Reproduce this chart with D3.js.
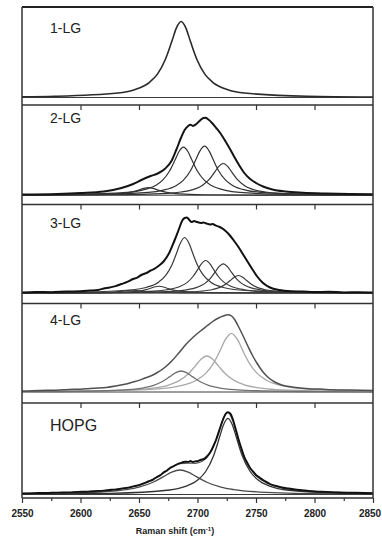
<!DOCTYPE html>
<html><head><meta charset="utf-8">
<script src="https://cdn.jsdelivr.net/npm/d3@7"></script>
<style>
html,body{margin:0;padding:0;background:#fff;}
svg{display:block;}
</style></head>
<body>
<svg id="chart" width="382" height="538"></svg>
<script>
// ---------------- DATA ----------------
const panelLabels = ["1-LG", "2-LG", "3-LG", "4-LG", "HOPG"];
const xTickMajor = [2550, 2600, 2650, 2700, 2750, 2800, 2850];
const xTickMinor = [2575, 2625, 2675, 2725, 2775, 2825];
const xAxisTitle = "Raman shift (cm";
const baselines = [7.5, 9.3, 10.5, 11, 3.5];

const lg1_spectrum = [[2550,8.2],[2578,8.7],[2632,12.0],[2645.5,15.1],[2659,22.7],[2665.75,30.9],[2672.5,45.5],[2678,63.4],[2682,77.2],[2686,83.5],[2690,77.2],[2694,63.4],[2699.5,45.5],[2706.25,30.9],[2713,22.7],[2726.5,15.1],[2740,12.0],[2794,8.7],[2850,8.0]];

const lg2_spectrum = [[2550,10.0],[2580,10.6],[2600,11.5],[2620,13.0],[2635,16.5],[2645,20.5],[2652,24.5],[2660,28.5],[2666,31.0],[2672,35.5],[2678,44.0],[2682,55.0],[2686,67.0],[2689,74.5],[2692,78.5],[2694,79.8],[2696,78.6],[2699,80.5],[2702,83.8],[2705,86.5],[2707,86.8],[2709,85.2],[2712,82.0],[2716,76.5],[2720,70.5],[2724,63.0],[2728,55.0],[2732,46.5],[2736,38.5],[2740,31.5],[2745,25.5],[2750,21.5],[2756,18.0],[2764,15.0],[2775,13.0],[2790,11.8],[2810,11.0],[2830,10.5],[2850,10.2]];
const lg2_fitA = [[2550,9.4],[2610,9.74],[2622,10.05],[2634,10.8],[2640,11.6],[2646,13.05],[2651,14.9],[2654,16.05],[2658,16.8],[2662,16.05],[2665,14.9],[2670,13.05],[2676,11.6],[2682,10.8],[2694,10.05],[2706,9.74],[2754,9.42],[2850,9.33]];
const lg2_fitB = [[2550,9.7],[2592,10.0],[2640,12.1],[2652,14.1],[2664,18.9],[2670,24.1],[2676,33.3],[2681,45.1],[2684,52.5],[2688,57.3],[2692,52.5],[2695,45.1],[2700,33.3],[2706,24.1],[2712,18.9],[2724,14.1],[2736,12.1],[2784,10.0],[2850,9.6]];
const lg2_fitC = [[2550,9.6],[2610,10.05],[2658,12.2],[2670,14.2],[2682,19.1],[2688,24.4],[2694,33.8],[2699,45.9],[2702,53.4],[2706,58.3],[2710,53.4],[2713,45.9],[2718,33.8],[2724,24.4],[2730,19.1],[2742,14.2],[2754,12.2],[2802,10.05],[2850,9.6]];
const lg2_fitD = [[2550,9.5],[2626,9.8],[2674,11.2],[2686,12.5],[2698,15.6],[2704,19.1],[2710,25.15],[2715,32.9],[2718,37.8],[2722,41.0],[2726,37.8],[2729,32.9],[2734,25.15],[2740,19.1],[2746,15.6],[2758,12.5],[2770,11.2],[2818,9.8],[2850,9.6]];

const lg3_spectrum = [[2550,11.0],[2562,11.6],[2575,11.3],[2588,12.0],[2600,12.2],[2608,12.9],[2615,13.6],[2620,14.9],[2625,16.0],[2630,17.4],[2635,19.5],[2640,21.6],[2645,24.5],[2648,25.6],[2652,28.5],[2656,30.3],[2660,33.0],[2663,34.6],[2666,37.0],[2671,42.0],[2676,51.0],[2680,62.0],[2684,74.0],[2687,83.0],[2689,85.5],[2691,86.0],[2693,83.5],[2695,81.5],[2697,82.4],[2699,81.8],[2703,80.5],[2705,81.0],[2707,80.2],[2711,79.0],[2713,79.6],[2715,78.3],[2719,76.5],[2723,73.5],[2727,69.0],[2731,63.0],[2735,56.5],[2739,49.0],[2743,41.5],[2747,34.0],[2751,27.0],[2756,20.5],[2762,16.0],[2770,13.5],[2780,12.3],[2790,12.0],[2800,11.5],[2812,11.7],[2825,11.1],[2838,11.3],[2850,11.0]];
const lg3_fit1 = [[2550,10.85],[2601,11.35],[2645,13.76],[2656,16.05],[2667,21.6],[2673,28.3],[2678,38.25],[2682,50.0],[2685,59.5],[2689,66.0],[2693,59.5],[2696,50.0],[2700,38.25],[2705,28.3],[2711,21.6],[2722,16.05],[2733,13.76],[2777,11.35],[2850,10.76]];
const lg3_fit2 = [[2550,10.66],[2619,11.0],[2663,12.4],[2674,13.75],[2685,17.0],[2691,20.9],[2696,26.75],[2700,33.6],[2703,39.2],[2707,43.0],[2711,39.2],[2714,33.6],[2718,26.75],[2723,20.9],[2729,17.0],[2740,13.75],[2751,12.4],[2795,11.0],[2850,10.7]];
const lg3_fit3 = [[2550,10.62],[2634,10.95],[2678,12.22],[2689,13.42],[2700,16.34],[2706,19.87],[2711,25.1],[2715,31.3],[2718,36.3],[2722,39.7],[2726,36.3],[2729,31.3],[2733,25.1],[2738,19.87],[2744,16.34],[2755,13.42],[2766,12.22],[2810,10.95],[2850,10.71]];
const lg3_fit4 = [[2550,10.56],[2647,10.77],[2691,11.53],[2702,12.25],[2713,14.0],[2719,16.12],[2724,19.25],[2728,22.96],[2731,25.95],[2735,28.0],[2739,25.95],[2742,22.96],[2746,19.25],[2751,16.12],[2757,14.0],[2768,12.25],[2779,11.53],[2823,10.77],[2850,10.66]];
const lg3_fit5 = [[2550,10.57],[2579,10.6],[2623,10.9],[2634,11.18],[2645,11.86],[2651,12.68],[2656,13.9],[2660,15.34],[2663,16.5],[2667,17.3],[2671,16.5],[2674,15.34],[2678,13.9],[2683,12.68],[2689,11.86],[2700,11.18],[2711,10.9],[2755,10.6],[2850,10.52]];
const lg3_fit6 = [[2550,10.55],[2600,10.66],[2611,10.78],[2622,11.06],[2628,11.4],[2633,11.9],[2637,12.49],[2640,12.97],[2644,13.3],[2648,12.97],[2651,12.49],[2655,11.9],[2660,11.4],[2666,11.06],[2677,10.78],[2688,10.66],[2850,10.52]];

const lg4_spectrum = [[2550,12.0],[2565,12.6],[2580,12.8],[2590,13.6],[2600,13.8],[2608,14.6],[2615,15.0],[2622,15.6],[2630,17.0],[2638,18.8],[2645,21.0],[2650,22.6],[2655,25.0],[2660,27.0],[2665,30.0],[2672,35.5],[2678,42.0],[2684,50.0],[2690,58.5],[2696,65.5],[2702,71.5],[2708,77.0],[2713,81.5],[2718,85.0],[2722,87.0],[2726,88.2],[2729,87.2],[2732,83.0],[2735,76.5],[2739,67.0],[2743,57.0],[2747,47.5],[2751,39.5],[2755,32.5],[2760,26.0],[2766,21.0],[2772,18.0],[2782,15.8],[2795,14.3],[2805,13.9],[2815,13.3],[2830,12.9],[2850,12.5]];
const lg4_fit1 = [[2550,11.29],[2622,12.23],[2638,13.1],[2654,15.2],[2662,17.47],[2670,21.5],[2676,26.1],[2681,30.1],[2686,32.0],[2691,30.1],[2696,26.1],[2702,21.5],[2710,17.47],[2718,15.2],[2734,13.1],[2750,12.23],[2814,11.32],[2850,11.2]];
const lg4_fit2 = [[2550,11.36],[2580,11.55],[2644,13.12],[2660,14.6],[2676,18.2],[2684,22.1],[2692,29.0],[2698,36.9],[2703,43.8],[2708,47.0],[2713,43.8],[2718,36.9],[2724,29.0],[2732,22.1],[2740,18.2],[2756,14.6],[2772,13.12],[2836,11.55],[2850,11.45]];
const lg4_fit3 = [[2550,11.41],[2609,11.9],[2669,14.45],[2684,16.87],[2699,22.74],[2707,29.6],[2714,40.35],[2719,51.6],[2724,63.8],[2729,69.7],[2734,63.8],[2739,51.6],[2744,40.35],[2751,29.6],[2759,22.74],[2774,16.87],[2789,14.45],[2850,11.89]];

const hopg_spectrum = [[2550,4.5],[2560,4.9],[2570,5.0],[2580,5.4],[2590,5.6],[2598,6.1],[2605,6.3],[2612,6.9],[2620,7.4],[2626,8.2],[2632,8.8],[2637,9.9],[2642,10.6],[2646,11.9],[2650,12.8],[2654,14.6],[2658,16.5],[2662,18.4],[2665,20.8],[2668,22.6],[2671,25.5],[2674,27.6],[2677,30.5],[2680,32.0],[2683,34.0],[2686,35.2],[2689,36.3],[2692,36.1],[2694,37.0],[2696,36.0],[2698,36.6],[2700,36.8],[2702,37.9],[2704,38.5],[2706,39.4],[2708,41.5],[2710,44.2],[2712,48.0],[2714,53.0],[2716,58.5],[2719,69.0],[2722,79.0],[2724,84.0],[2726,85.8],[2728,84.5],[2730,79.5],[2733,67.5],[2736,55.0],[2738,48.0],[2740,41.0],[2742,36.2],[2745,30.0],[2748,25.8],[2750,23.0],[2753,20.6],[2756,18.0],[2760,15.4],[2763,13.5],[2768,11.9],[2772,10.5],[2778,9.5],[2785,8.2],[2792,7.5],[2800,6.6],[2810,6.1],[2820,5.5],[2835,5.2],[2850,4.8]];
const hopg_fitSum = [[2550,4.57],[2600,5.91],[2625,7.79],[2640,10.15],[2650,12.9],[2660,17.34],[2670,24.3],[2678,30.7],[2685,34.5],[2692,35.0],[2698,34.7],[2704,36.7],[2710,43.6],[2715,55.6],[2719,69.2],[2722,79.4],[2726,85.6],[2730,77.7],[2734,62.0],[2738,47.0],[2744,31.5],[2750,22.5],[2760,14.7],[2775,9.65],[2800,6.55],[2825,5.34],[2850,4.74]];
const hopg_fit1 = [[2550,4.19],[2593,4.94],[2616,5.95],[2639,8.4],[2650,10.9],[2662,15.75],[2671,21.4],[2678,25.9],[2685,28.0],[2692,25.9],[2699,21.4],[2708,15.75],[2720,10.9],[2731,8.4],[2754,5.95],[2777,4.94],[2850,3.97]];
const hopg_fit2 = [[2550,3.88],[2626,4.67],[2676,7.98],[2689,11.31],[2701,18.74],[2707,26.5],[2714,43.1],[2719,61.5],[2722,72.6],[2726,79.7],[2730,72.6],[2733,61.5],[2738,43.1],[2745,26.5],[2751,18.74],[2763,11.31],[2776,7.98],[2826,4.67],[2850,4.27]];

// ---------------- LAYOUT / STYLE ----------------
const W = 382, H = 538;
const plotLeft = 22, plotRight = 373, frameTop = 7;
const panelBottoms = [105, 204.5, 303.5, 403, 498];
const labelOffsets = [26, 18, 23, 21, 28];
const labelSizes = [14, 14, 14, 14, 16];
const FONT = "'Liberation Sans', Arial, Helvetica, sans-serif";

const panelCurves = [
  [{d: lg1_spectrum, c: "#2b2b2b", w: 1.6}],
  [{d: lg2_fitA, c: "#333", w: 1.2}, {d: lg2_fitB, c: "#333", w: 1.2}, {d: lg2_fitC, c: "#333", w: 1.2}, {d: lg2_fitD, c: "#333", w: 1.2}, {d: lg2_spectrum, c: "#151515", w: 2.0}],
  [{d: lg3_fit6, c: "#3a3a3a", w: 1.1}, {d: lg3_fit5, c: "#3a3a3a", w: 1.1}, {d: lg3_fit1, c: "#3a3a3a", w: 1.2}, {d: lg3_fit2, c: "#3a3a3a", w: 1.2}, {d: lg3_fit3, c: "#3a3a3a", w: 1.2}, {d: lg3_fit4, c: "#3a3a3a", w: 1.2}, {d: lg3_spectrum, c: "#111", w: 2.0}],
  [{d: lg4_fit2, c: "#a8a8a8", w: 1.3}, {d: lg4_fit3, c: "#a8a8a8", w: 1.3}, {d: lg4_fit1, c: "#707070", w: 1.3}, {d: lg4_spectrum, c: "#505050", w: 1.5}],
  [{d: hopg_fit1, c: "#4a4a4a", w: 1.3}, {d: hopg_fit2, c: "#333", w: 1.3}, {d: hopg_fitSum, c: "#555", w: 1.3}, {d: hopg_spectrum, c: "#111", w: 1.9}]
];

// ---------------- DRAW ----------------
const svg = d3.select("#chart");
const x = d3.scaleLinear().domain([xTickMajor[0], xTickMajor[xTickMajor.length - 1]]).range([plotLeft, plotRight]);

const panelTops = [frameTop].concat(panelBottoms.slice(0, -1));

panelBottoms.forEach((bottom, i) => {
  const top = panelTops[i];
  const y = d3.scaleLinear().domain([0, bottom - top]).range([bottom, top]);
  const g = svg.append("g");
  const clipId = "clip" + i;
  svg.append("clipPath").attr("id", clipId).append("rect")
    .attr("x", plotLeft).attr("y", top).attr("width", plotRight - plotLeft).attr("height", bottom - top);
  const cg = g.append("g").attr("clip-path", `url(#${clipId})`);
  cg.append("line")
    .attr("x1", x.range()[0]).attr("x2", x.range()[1])
    .attr("y1", y(baselines[i])).attr("y2", y(baselines[i]))
    .attr("stroke", "#3a3a3a").attr("stroke-width", 1);
  const line = d3.line().x(d => x(d[0])).y(d => y(d[1])).curve(d3.curveMonotoneX);
  panelCurves[i].forEach(cv => {
    cg.append("path").datum(cv.d).attr("d", line)
      .attr("fill", "none").attr("stroke", cv.c).attr("stroke-width", cv.w)
      .attr("stroke-linejoin", "round");
  });
  g.append("text").attr("x", 50).attr("y", top + labelOffsets[i])
    .attr("font-family", FONT).attr("font-size", labelSizes[i]).attr("fill", "#222")
    .text(panelLabels[i]);
  if (i < panelBottoms.length - 1) {
    const ax = g.append("g").attr("transform", `translate(0,${bottom})`)
      .call(d3.axisBottom(x).tickValues(xTickMajor.slice(1, -1)).tickSize(5).tickFormat(""));
    ax.select(".domain").remove();
    ax.selectAll(".tick line").attr("stroke", "#333").attr("stroke-width", 1.2);
  }
  g.append("line").attr("x1", plotLeft).attr("x2", plotRight)
    .attr("y1", bottom).attr("y2", bottom)
    .attr("stroke", "#333").attr("stroke-width", 1.4);
});

// frame
svg.append("line").attr("x1", plotLeft).attr("x2", plotRight).attr("y1", frameTop).attr("y2", frameTop)
  .attr("stroke", "#222").attr("stroke-width", 2);
[plotLeft, plotRight].forEach(px => {
  svg.append("line").attr("x1", px).attr("x2", px).attr("y1", frameTop).attr("y2", panelBottoms[panelBottoms.length - 1])
    .attr("stroke", "#333").attr("stroke-width", 1.5);
});

// bottom axis
const axisY = panelBottoms[panelBottoms.length - 1];
const major = svg.append("g").attr("transform", `translate(0,${axisY})`)
  .call(d3.axisBottom(x).tickValues(xTickMajor).tickSize(5).tickPadding(7).tickFormat(d3.format("d")));
major.select(".domain").remove();
major.selectAll(".tick line").attr("stroke", "#333").attr("stroke-width", 1.2);
major.selectAll(".tick text").attr("font-family", FONT).attr("font-size", 10)
  .attr("font-weight", "bold").attr("fill", "#222");
// keep the edge label inside the picture
major.selectAll(".tick text").filter(d => d === xTickMajor[xTickMajor.length - 1]).attr("dx", -3.5);
const minor = svg.append("g").attr("transform", `translate(0,${axisY})`)
  .call(d3.axisBottom(x).tickValues(xTickMinor).tickSize(3).tickFormat(""));
minor.select(".domain").remove();
minor.selectAll(".tick line").attr("stroke", "#333").attr("stroke-width", 1.2);

// axis title
const title = svg.append("text").attr("x", 175).attr("y", 534)
  .attr("text-anchor", "middle").attr("font-family", FONT)
  .attr("font-size", 9).attr("font-weight", "bold").attr("fill", "#222");
title.append("tspan").text(xAxisTitle);
title.append("tspan").attr("font-size", 6).attr("dy", -3.5).text("-1");
title.append("tspan").attr("dy", 3.5).text(")");
</script>
</body></html>
